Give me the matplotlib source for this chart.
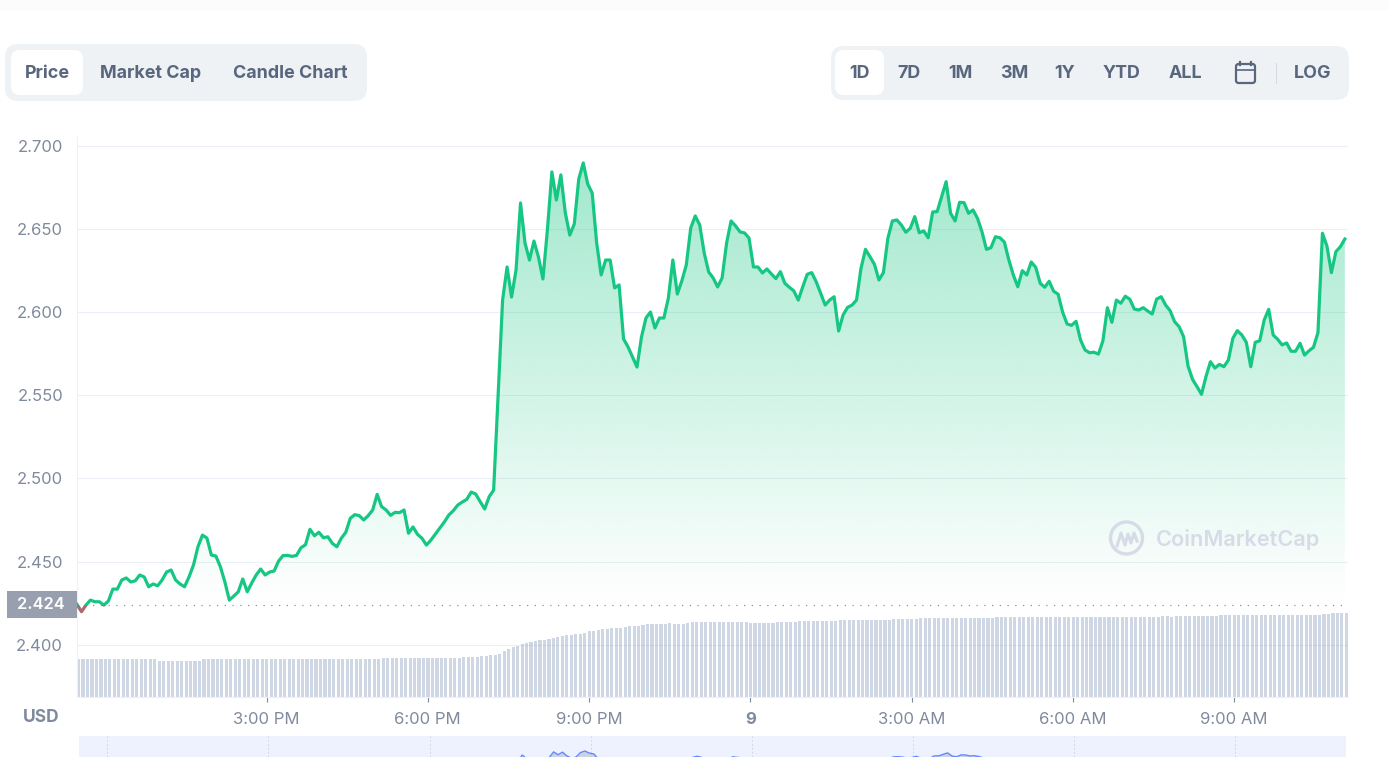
import numpy as np
import matplotlib
matplotlib.use('Agg')
import matplotlib.pyplot as plt
from matplotlib.patches import FancyBboxPatch, Rectangle, Arc

plt.rcParams['font.family'] = ['Inter', 'DejaVu Sans']

# 5 minute samples
prices = [
    2.4242, 2.4198, 2.4238, 2.4268, 2.4258, 2.4258, 2.4238, 2.4262, 2.4334, 2.4334,
    2.4389, 2.4401, 2.4377, 2.4384, 2.4419, 2.4407, 2.4348, 2.4365, 2.4354, 2.4389,
    2.4437, 2.4449, 2.4389, 2.4365, 2.4348, 2.4407, 2.4479, 2.4589, 2.4659, 2.4641,
    2.4539, 2.4533, 2.4469, 2.4378, 2.4268, 2.4292, 2.4318, 2.4395, 2.4318, 2.4371,
    2.4419, 2.4455, 2.4419, 2.4437, 2.4443, 2.4503, 2.4536, 2.4537, 2.4531, 2.4537,
    2.4583, 2.4601, 2.4694, 2.4655, 2.4676, 2.4643, 2.4649, 2.4609, 2.4589, 2.4640,
    2.4676, 2.4760, 2.4782, 2.4776, 2.4750, 2.4776, 2.4810, 2.4904, 2.4830, 2.4810,
    2.4778, 2.4796, 2.4794, 2.4810, 2.4670, 2.4708, 2.4664, 2.4640, 2.4599, 2.4629,
    2.4665, 2.4700, 2.4738, 2.4780, 2.4806, 2.4840, 2.4858, 2.4874, 2.4918, 2.4906,
    2.4860, 2.4816, 2.4890, 2.4930, 2.5502, 2.6073, 2.6272, 2.6091, 2.6254, 2.6657,
    2.6416, 2.6314, 2.6428, 2.6332, 2.6200, 2.6495, 2.6844, 2.6675, 2.6826, 2.6597,
    2.6464, 2.6531, 2.6801, 2.6898, 2.6771, 2.6717, 2.6416, 2.6224, 2.6314, 2.6314,
    2.6146, 2.6164, 2.5839, 2.5791, 2.5730, 2.5670, 2.5851, 2.5965, 2.6001, 2.5905,
    2.5965, 2.5965, 2.6085, 2.6314, 2.6109, 2.6188, 2.6284, 2.6507, 2.6579, 2.6525,
    2.6356, 2.6242, 2.6206, 2.6152, 2.6206, 2.6416, 2.6549, 2.6519, 2.6483, 2.6477,
    2.6446, 2.6272, 2.6272, 2.6236, 2.6260, 2.6230, 2.6202, 2.6244, 2.6174, 2.6150,
    2.6128, 2.6073, 2.6153, 2.6228, 2.6238, 2.6183, 2.6114, 2.6043, 2.6073, 2.6093,
    2.5887, 2.5983, 2.6029, 2.6043, 2.6073, 2.6264, 2.6378, 2.6334, 2.6288, 2.6194,
    2.6238, 2.6445, 2.6549, 2.6555, 2.6525, 2.6481, 2.6505, 2.6575, 2.6478, 2.6489,
    2.6448, 2.6603, 2.6605, 2.6695, 2.6785, 2.6595, 2.6549, 2.6661, 2.6659, 2.6595,
    2.6615, 2.6565, 2.6484, 2.6378, 2.6388, 2.6454, 2.6448, 2.6422, 2.6314, 2.6224,
    2.6153, 2.6250, 2.6224, 2.6302, 2.6270, 2.6174, 2.6150, 2.6186, 2.6126, 2.6108,
    2.6001, 2.5929, 2.5921, 2.5945, 2.5833, 2.5773, 2.5756, 2.5759, 2.5748, 2.5828,
    2.6027, 2.5939, 2.6073, 2.6054, 2.6096, 2.6078, 2.6019, 2.6013, 2.6027, 2.6007,
    2.5989, 2.6079, 2.6093, 2.6043, 2.6009, 2.5943, 2.5913, 2.5853, 2.5676, 2.5596,
    2.5552, 2.5506, 2.5612, 2.5702, 2.5664, 2.5686, 2.5672, 2.5712, 2.5843, 2.5889,
    2.5863, 2.5819, 2.5672, 2.5819, 2.5828, 2.5953, 2.6017, 2.5863, 2.5837, 2.5803,
    2.5815, 2.5765, 2.5765, 2.5813, 2.5742, 2.5768, 2.5789, 2.5877, 2.6475, 2.6398,
    2.6238, 2.6364, 2.6394, 2.6440,
]

# volume, no scale in the picture so the units are only relative
volumes = [
    0.380, 0.376, 0.376, 0.376, 0.376, 0.376, 0.376, 0.376, 0.376, 0.376,
    0.376, 0.376, 0.376, 0.376, 0.376, 0.376, 0.376, 0.376, 0.363, 0.363,
    0.363, 0.363, 0.363, 0.363, 0.363, 0.363, 0.363, 0.363, 0.376, 0.376,
    0.376, 0.376, 0.376, 0.376, 0.376, 0.376, 0.376, 0.376, 0.376, 0.376,
    0.376, 0.376, 0.376, 0.376, 0.376, 0.376, 0.376, 0.376, 0.376, 0.376,
    0.376, 0.376, 0.376, 0.376, 0.376, 0.376, 0.376, 0.376, 0.376, 0.376,
    0.376, 0.376, 0.376, 0.382, 0.382, 0.382, 0.382, 0.382, 0.393, 0.393,
    0.393, 0.393, 0.393, 0.393, 0.393, 0.393, 0.393, 0.393, 0.393, 0.393,
    0.393, 0.393, 0.393, 0.393, 0.393, 0.393, 0.400, 0.400, 0.400, 0.400,
    0.410, 0.410, 0.420, 0.423, 0.430, 0.460, 0.480, 0.500, 0.510, 0.530,
    0.540, 0.550, 0.560, 0.570, 0.570, 0.580, 0.590, 0.600, 0.610, 0.620,
    0.620, 0.630, 0.630, 0.640, 0.660, 0.660, 0.670, 0.680, 0.680, 0.690,
    0.690, 0.690, 0.700, 0.710, 0.710, 0.710, 0.720, 0.730, 0.730, 0.730,
    0.730, 0.730, 0.740, 0.730, 0.730, 0.730, 0.740, 0.750, 0.750, 0.750,
    0.750, 0.750, 0.750, 0.750, 0.750, 0.750, 0.750, 0.750, 0.750, 0.750,
    0.740, 0.740, 0.740, 0.740, 0.740, 0.740, 0.750, 0.750, 0.750, 0.750,
    0.750, 0.760, 0.760, 0.760, 0.760, 0.760, 0.760, 0.760, 0.760, 0.760,
    0.770, 0.770, 0.770, 0.770, 0.770, 0.770, 0.770, 0.770, 0.770, 0.770,
    0.770, 0.770, 0.780, 0.780, 0.780, 0.780, 0.780, 0.780, 0.790, 0.790,
    0.790, 0.790, 0.790, 0.790, 0.790, 0.790, 0.790, 0.790, 0.790, 0.790,
    0.790, 0.790, 0.790, 0.790, 0.790, 0.800, 0.800, 0.800, 0.800, 0.800,
    0.800, 0.800, 0.800, 0.800, 0.800, 0.800, 0.800, 0.800, 0.800, 0.800,
    0.800, 0.800, 0.800, 0.800, 0.800, 0.800, 0.800, 0.800, 0.800, 0.800,
    0.800, 0.800, 0.800, 0.800, 0.800, 0.800, 0.800, 0.800, 0.800, 0.800,
    0.800, 0.800, 0.810, 0.810, 0.800, 0.810, 0.810, 0.810, 0.810, 0.810,
    0.810, 0.810, 0.810, 0.810, 0.810, 0.820, 0.820, 0.820, 0.820, 0.820,
    0.820, 0.820, 0.820, 0.820, 0.820, 0.820, 0.820, 0.820, 0.820, 0.820,
    0.820, 0.820, 0.820, 0.820, 0.820, 0.820, 0.820, 0.820, 0.830, 0.830,
    0.837, 0.840, 0.840, 0.840,
]

base_price = 2.424
y_ticks = [2.400, 2.450, 2.500, 2.550, 2.600, 2.650, 2.700]
x_ticks = [15, 18, 21, 24, 27, 30, 33]
x_labels = ['3:00 PM', '6:00 PM', '9:00 PM', '9', '3:00 AM', '6:00 AM', '9:00 AM']
range_tabs = ['1D', '7D', '1M', '3M', '1Y', 'YTD', 'ALL']
range_x = [859, 909, 960, 1014, 1065, 1122, 1185]
view_tabs = ['Price', 'Market Cap', 'Candle Chart']
view_x = [47, 151, 290]

GREEN = '#16c784'
RED = '#a96a70'
UI_BG = '#eff2f5'
UI_TEXT = '#58667e'
AXIS_TEXT = '#808a9d'

W, H = 1389, 757
fig = plt.figure(figsize=(W / 100, H / 100), dpi=100, facecolor='white')


def px_axes(x0, y0, x1, y1, **kw):
    # axes from pixel box, y counted from the top
    return fig.add_axes([x0 / W, 1 - y1 / H, (x1 - x0) / W, (y1 - y0) / H], **kw)


times = 11.475 + np.arange(len(prices)) / 12
prices = np.array(prices)

ax = px_axes(77, 137, 1348, 697)
ax.set_xlim(11.475, 35.117)
ax.set_ylim(2.3685, 2.7054)
ax.set_facecolor('none')

# gradient under the line
rgba = np.zeros((256, 1, 4))
rgba[..., :3] = matplotlib.colors.to_rgb(GREEN)
rgba[..., 3] = np.linspace(0.4, 0.0, 256).reshape(-1, 1)
img = ax.imshow(rgba, extent=[11.475, 35.117, base_price, prices.max()], aspect='auto',
                origin='upper', zorder=1, interpolation='bilinear')
poly = ax.fill_between(times, prices, base_price, color='none')
img.set_clip_path(poly.get_paths()[0], transform=ax.transData)
ax.set_xlim(11.475, 35.117)
ax.set_ylim(2.3685, 2.7054)

# volume bars on their own scale
ax_vol = ax.twinx()
ax_vol.set_ylim(0, 5.6)
ax_vol.bar(times, volumes, width=0.058, align='edge', color='#cfd6e4', linewidth=0, zorder=1)
ax_vol.axis('off')

ax.set_zorder(ax_vol.get_zorder() + 1)
ax.set_yticks(y_ticks)
ax.set_yticklabels(['%.3f' % v for v in y_ticks], fontsize=12, color=AXIS_TEXT)
ax.set_xticks(x_ticks)
ax.set_xticklabels(x_labels, fontsize=12, color=AXIS_TEXT)
ax.get_xticklabels()[3].set_fontweight('bold')
ax.tick_params(axis='y', length=0, pad=10)
ax.tick_params(axis='x', length=3.6, width=0.8, color=AXIS_TEXT, pad=7)
ax.grid(axis='y', color='#8fa0c8', alpha=0.16, linewidth=0.8, zorder=2)
ax.set_axisbelow(True)
for side in ['top', 'right']:
    ax.spines[side].set_visible(False)
for side in ['left', 'bottom']:
    ax.spines[side].set_color('#eef1f7')
    ax.spines[side].set_linewidth(0.8)

ax.axhline(base_price, color='#8a93a6', linewidth=0.9, linestyle=(0, (1, 5.2)), zorder=3)

# line, green over the opening price and red under it
top = ax.plot(times, prices, color=GREEN, linewidth=2.3, solid_joinstyle='round', zorder=5)[0]
top.set_clip_path(Rectangle((11, base_price), 30, 1, transform=ax.transData))
low = ax.plot(times, prices, color=RED, linewidth=2.3, solid_joinstyle='round', zorder=5)[0]
low.set_clip_path(Rectangle((11, 2), 30, base_price - 2, transform=ax.transData))

# navigator strip at the bottom, cut off by the page edge
nav = px_axes(79, 736, 1346, 757)
nav.set_facecolor('#eef2fe')
nav.set_xlim(times[0], times[-1])
nav.set_ylim(2.6537, 2.780)
nav.fill_between(times, prices, 2.6, color='#c4cad8', alpha=0.8, linewidth=0)
nav.plot(times, prices, color='#6188ff', linewidth=1.0)
nav.set_xticks([12, 15, 18, 21, 24, 27, 30, 33])
nav.grid(axis='x', color='#d3d7e2', linewidth=0.7, linestyle=(0, (2, 2)))
nav.set_axisbelow(True)
nav.tick_params(length=0, labelbottom=False, labelleft=False)
nav.set_yticks([])
for s in nav.spines.values():
    s.set_visible(False)

# page furniture in pixel coordinates
ui = fig.add_axes([0, 0, 1, 1], zorder=10)
ui.set_xlim(0, W)
ui.set_ylim(H, 0)
ui.axis('off')
ui.patch.set_alpha(0)


def rbox(x0, y0, x1, y1, r, color):
    ui.add_patch(FancyBboxPatch((x0 + r, y0 + r), x1 - x0 - 2 * r, y1 - y0 - 2 * r,
                                boxstyle='round,pad=%d,rounding_size=%d' % (r, r),
                                facecolor=color, edgecolor='none'))


ui.add_patch(Rectangle((0, 0), W, 10, facecolor='#fcfcfd', edgecolor='none'))
rbox(5, 44, 367, 101, 13, UI_BG)
rbox(11, 50, 83, 95, 9, 'white')
for name, x in zip(view_tabs, view_x):
    ui.text(x, 73.5, name, ha='center', va='center', fontsize=12.9, fontweight='bold', color=UI_TEXT)

rbox(831, 46, 1349, 100, 13, UI_BG)
rbox(835, 50, 884, 95, 9, 'white')
for name, x in zip(range_tabs, range_x):
    ui.text(x, 73.5, name, ha='center', va='center', fontsize=12.9, fontweight='bold', color=UI_TEXT)
ui.text(1313, 73.5, 'LOG', ha='center', va='center', fontsize=12.9, fontweight='bold', color=UI_TEXT)

# calendar icon
ui.add_patch(FancyBboxPatch((1237, 65), 17, 17, boxstyle='round,pad=1,rounding_size=2.5',
                            facecolor='none', edgecolor=UI_TEXT, linewidth=1.6))
ui.plot([1236, 1255], [70, 70], color=UI_TEXT, linewidth=1.2)
ui.plot([1240, 1240], [62, 65], color=UI_TEXT, linewidth=1.6)
ui.plot([1251, 1251], [62, 65], color=UI_TEXT, linewidth=1.6)
ui.plot([1276, 1276], [63, 83], color='#d5dae3', linewidth=0.8)

# current price tag
ui.add_patch(Rectangle((7, 591), 70, 27, facecolor='#98a0af', edgecolor='none'))
ui.text(41, 604.5, '2.424', ha='center', va='center', fontsize=11.8, fontweight='semibold', color='white')
ui.text(41, 718, 'USD', ha='center', va='center', fontsize=12.5, fontweight='bold', color=AXIS_TEXT)

# watermark
WM = '#d6dbe7'
ui.add_patch(Arc((1126.5, 538), 32, 32, theta1=0, theta2=360, edgecolor=WM, linewidth=2.4))
ui.plot([1117, 1121, 1125, 1128, 1131, 1134, 1137], [546, 533, 545, 534, 543, 533, 541],
        color=WM, linewidth=2.2, solid_joinstyle='round')
ui.text(1156, 540, 'CoinMarketCap', ha='left', va='center', fontsize=15.6, fontweight='semibold', color=WM)

fig.savefig('out.png', dpi=100)
